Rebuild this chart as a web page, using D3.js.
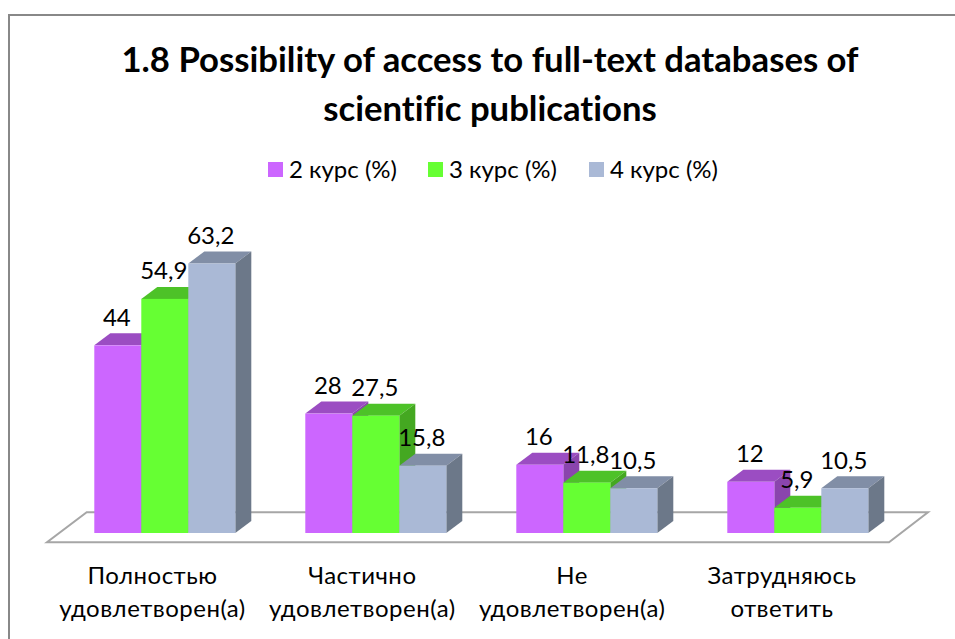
<!DOCTYPE html>
<html><head><meta charset="utf-8">
<script src="https://cdn.jsdelivr.net/npm/d3@7/dist/d3.min.js"></script>
<style>html,body{margin:0;padding:0;background:#fff}svg{display:block}text{font-variant-ligatures:none}</style></head>
<body><svg id="c" width="955" height="639"></svg>
<script>
const titleLines = ["1.8 Possibility of access to full-text databases of", "scientific publications"];
const categories = ["Полностью удовлетворен(а)", "Частично удовлетворен(а)", "Не удовлетворен(а)", "Затрудняюсь ответить"];
const categoryLines = [["Полностью", "удовлетворен(а)"], ["Частично", "удовлетворен(а)"], ["Не", "удовлетворен(а)"], ["Затрудняюсь", "ответить"]];
const seriesNames = ["2 курс (%)", "3 курс (%)", "4 курс (%)"];
const course2 = [44, 28, 16, 12];
const course3 = [54.9, 27.5, 11.8, 5.9];
const course4 = [63.2, 15.8, 10.5, 10.5];
const seriesValues = [course2, course3, course4];
const frontColors = ["#CC66FF", "#66FF33", "#AAB9D6"];
const topColors = ["#9B4DC2", "#4DC228", "#818EA6"];
const sideColors = ["#8A45AD", "#44A821", "#6C7889"];

const svg = d3.select("#c");
const bodyFont = "Lato, sans-serif", titleFont = "Lato, sans-serif";
const fmt = v => String(v).replace(".", ",");

svg.append("path").attr("d", "M9,639V15H955").attr("fill", "none").attr("stroke", "#888").attr("stroke-width", 2);

titleLines.forEach((t, i) => svg.append("text").text(t).attr("x", 490).attr("y", 72 + i * 49)
  .attr("text-anchor", "middle").attr("font-family", titleFont).attr("font-weight", 700).attr("font-size", 34.7).attr("fill", "#000"));

// legend
const legendX = [268, 428, 589];
seriesNames.forEach((s, i) => {
  svg.append("rect").attr("x", legendX[i]).attr("y", 162).attr("width", 15).attr("height", 15).attr("fill", frontColors[i]);
  svg.append("text").text(s).attr("x", legendX[i] + 21).attr("y", 178).attr("font-family", bodyFont).attr("font-size", 24).attr("fill", "#000");
});

// scales
const baseY = 533, depthX = 16, depthY = 12, barW = 47;
const groupStep = 211;
const groupX = c => 94.3 + categories.indexOf(c) * groupStep;
const y = d3.scaleLinear().domain([0, 63.2]).range([baseY, 263.5]);

// floor
svg.append("path").attr("d", "M47,542.3H889L928,512.3H86.7Z").attr("fill", "#fff").attr("stroke", "#a6a6a6").attr("stroke-width", 2);

// bars
categories.forEach((c, ci) => {
  seriesValues.forEach((vals, si) => {
    const l = groupX(c) + si * barW, r = l + barW, t = y(vals[ci]), g = svg.append("g");
    g.append("path").attr("d", d3.line()([[l, t], [l + depthX, t - depthY], [r + depthX, t - depthY], [r, t]])).attr("fill", topColors[si]);
    g.append("path").attr("d", d3.line()([[r, t], [r + depthX, t - depthY], [r + depthX, baseY - depthY], [r, baseY]])).attr("fill", sideColors[si]);
    g.append("rect").attr("x", l).attr("y", t).attr("width", barW).attr("height", baseY - t).attr("fill", frontColors[si]);
  });
});

// value labels
categories.forEach((c, ci) => {
  seriesValues.forEach((vals, si) => {
    svg.append("text").text(fmt(vals[ci])).attr("x", groupX(c) + si * barW + barW / 2 - 1).attr("y", y(vals[ci]) - 19.5)
      .attr("text-anchor", "middle").attr("font-family", bodyFont).attr("font-size", 24).attr("fill", "#000");
  });
});

// category labels
const labelX = d3.scalePoint().domain(categories).range([152.5, 782]);
categoryLines.forEach((lines, ci) => {
  lines.forEach((t, li) => {
    svg.append("text").text(t).attr("x", labelX(categories[ci])).attr("y", 584 + li * 32.5)
      .attr("text-anchor", "middle").attr("font-family", bodyFont).attr("font-size", 24).attr("letter-spacing", 0.5).attr("fill", "#000");
  });
});
</script></body></html>
